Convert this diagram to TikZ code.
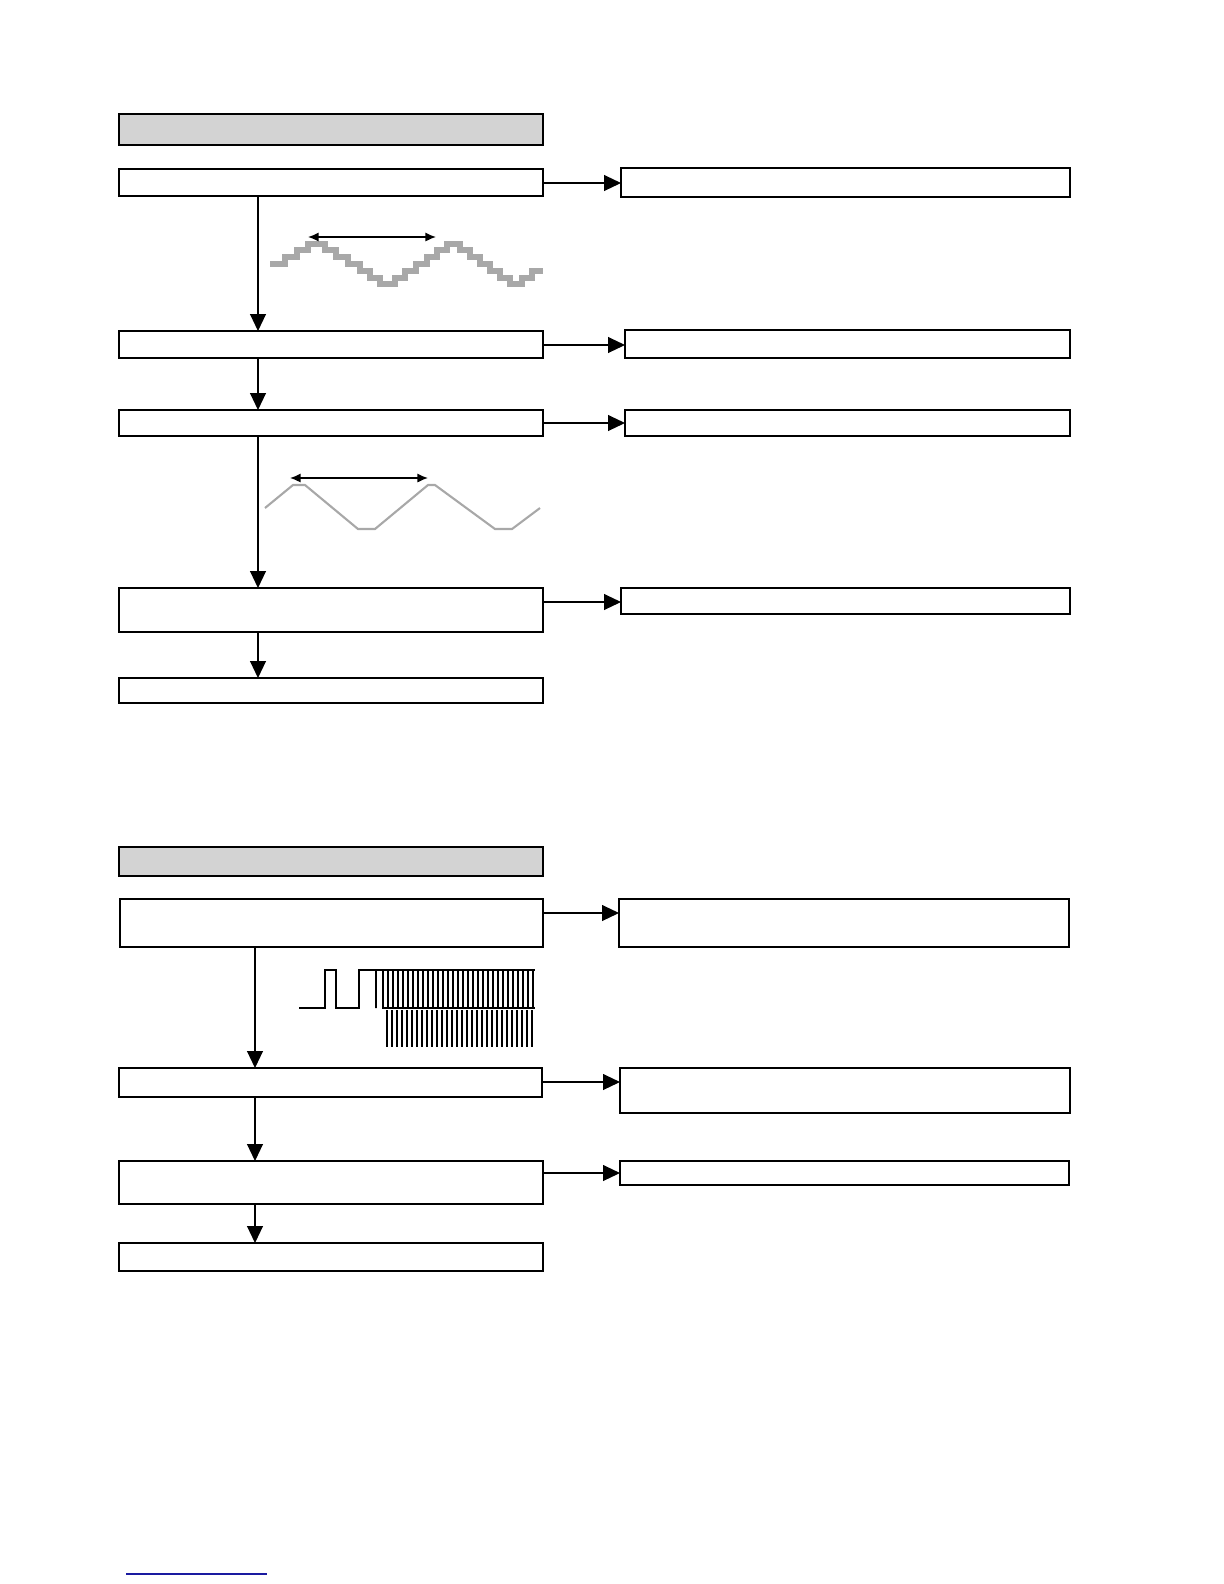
\documentclass[tikz,border=0pt]{standalone}
\usepackage{tikz}
\usetikzlibrary{calc}
\usetikzlibrary{arrows.meta}
\definecolor{color_head}{HTML}{d3d3d3}
\definecolor{color_wave}{HTML}{a8a8a8}
\definecolor{color_link}{HTML}{1a1aa0}

\begin{document}
\begin{tikzpicture}[x=0.01cm, y=-0.01cm]
  \tikzset{ % Specifications for style of nodes:
      base/.style = {draw=black, line width=0.35pt},
      head/.style = {base, fill=color_head},
      flow/.style = {-{Triangle[length=4.8pt, width=4.5pt]}, line width=0.35pt},
      span/.style = {{Latex[length=3pt, width=2.6pt]}-{Latex[length=3pt, width=2.6pt]}, line width=0.4pt},
  }
  \useasboundingbox (0,0) rectangle (1224,1584);
  % first chart
  \draw[head] (119,114) rectangle (543,145);
  \draw[base] (119,169) rectangle (543,196); \coordinate (a1b) at (258,196); \coordinate (a1r) at (543,183);
  \draw[base] (621,168) rectangle (1070,197); \coordinate (r1) at (621,183);
  \draw[base] (119,331) rectangle (543,358); \coordinate (a2t) at (258,331); \coordinate (a2b) at (258,358); \coordinate (a2r) at (543,345);
  \draw[base] (625,330) rectangle (1070,358); \coordinate (r2) at (625,345);
  \draw[base] (119,410) rectangle (543,436); \coordinate (a3t) at (258,410); \coordinate (a3b) at (258,436); \coordinate (a3r) at (543,423);
  \draw[base] (625,410) rectangle (1070,436); \coordinate (r3) at (625,423);
  \draw[base] (119,588) rectangle (543,632); \coordinate (a4t) at (258,588); \coordinate (a4b) at (258,632); \coordinate (a4r) at (543,602);
  \draw[base] (621,588) rectangle (1070,614); \coordinate (r4) at (621,602);
  \draw[base] (119,678) rectangle (543,703); \coordinate (a5t) at (258,678);
  \draw[flow] (a1r) -- (r1);
  \draw[flow] (a1b) -- (a2t);
  \draw[flow] (a2r) -- (r2);
  \draw[flow] (a2b) -- (a3t);
  \draw[flow] (a3r) -- (r3);
  \draw[flow] (a3b) -- (a4t);
  \draw[flow] (a4r) -- (r4);
  \draw[flow] (a4b) -- (a5t);
  % stepped wave
  \draw[color_wave, line width=1.6pt]
    (270,264) -| (285,257) -| (297,250) -| (308,244) -| (325,250) -| (336,257) -| (348,264) -| (360,271)
    -| (370,278) -| (380,284) -| (395,278) -| (405,271) -| (416,264) -| (427,257) -| (437,250) -| (447,244)
    -| (460,250) -| (470,257) -| (480,264) -| (490,271) -| (500,278) -| (510,284) -| (522,278) -| (532,271) -- (543,271);
  \draw[span] (308,237) -- (436,237);
  % triangle wave
  \draw[color_wave, line width=0.6pt] (265,508) -- (293,485) -- (305,485) -- (358,529) -- (375,529) -- (428,485)
    -- (435,485) -- (495,529) -- (512,529) -- (540,508);
  \draw[span] (290,478) -- (428,478);
  % second chart
  \draw[head] (119,847) rectangle (543,876);
  \draw[base] (120,899) rectangle (543,947); \coordinate (b1b) at (255,947); \coordinate (b1r) at (543,913);
  \draw[base] (619,899) rectangle (1069,947); \coordinate (s1) at (619,913);
  \draw[base] (119,1068) rectangle (542,1097); \coordinate (b2t) at (255,1068); \coordinate (b2b) at (255,1097); \coordinate (b2r) at (542,1082);
  \draw[base] (620,1068) rectangle (1070,1113); \coordinate (s2) at (620,1082);
  \draw[base] (119,1161) rectangle (543,1204); \coordinate (b3t) at (255,1161); \coordinate (b3b) at (255,1204); \coordinate (b3r) at (543,1173);
  \draw[base] (620,1161) rectangle (1069,1185); \coordinate (s3) at (620,1173);
  \draw[base] (119,1243) rectangle (543,1271); \coordinate (b4t) at (255,1243);
  \draw[flow] (b1r) -- (s1);
  \draw[flow] (b1b) -- (b2t);
  \draw[flow] (b2r) -- (s2);
  \draw[flow] (b2b) -- (b3t);
  \draw[flow] (b3r) -- (s3);
  \draw[flow] (b3b) -- (b4t);
  % pulse train
  \draw[line width=0.6pt] (299,1008) -| (325,970) -| (336,1008) -| (359,970) -| (376,1008) -- (376,970) -- (383,970) -- (383,1008) -- (535,1008);
  \foreach \i in {0,...,30} {
    \draw[line width=0.6pt] ({383+5*\i},970) -- ({383+5*\i},1008);
  }
  \draw[line width=0.6pt] (383,970) -- (535,970);
  \foreach \i in {0,...,29} {
    \draw[line width=0.6pt] ({387+5*\i},1010) -- ({387+5*\i},1047);
  }
  % footer link
  \draw[color_link, line width=0.5pt] (126,1574) -- (267,1574);
\end{tikzpicture}
\end{document}
